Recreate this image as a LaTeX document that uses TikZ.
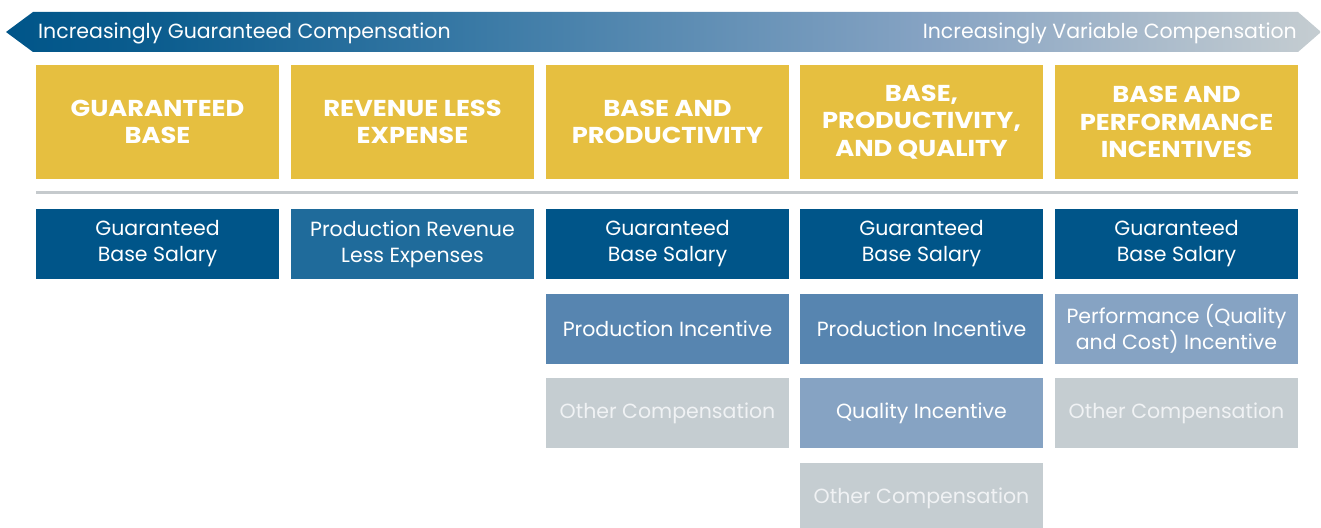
\documentclass[tikz,border=0pt]{standalone}
\usepackage{fontspec}
\setmainfont{Poppins}
\newfontfamily\headfont{Poppins}[FakeStretch=1.12]
\definecolor{gold}{HTML}{E6BF40}
\definecolor{navy}{HTML}{005589}
\definecolor{midblue}{HTML}{1F6B9B}
\definecolor{prodblue}{HTML}{5785B0}
\definecolor{qualblue}{HTML}{86A3C3}
\definecolor{othergray}{HTML}{C5CDD1}
\definecolor{rulegray}{HTML}{C5CACD}
\definecolor{othertext}{HTML}{F0F2F4}
\pgfdeclarehorizontalshading{bandshade}{100bp}{color(0bp)=(navy); color(25bp)=(navy); color(31bp)=(navy!95!white); color(41.5bp)=(midblue!80!qualblue); color(60bp)=(qualblue); color(75bp)=(othergray); color(100bp)=(othergray)}
\tikzset{
  head/.style={fill=gold, minimum width=243pt, minimum height=114pt, inner sep=0pt, text=white, align=center, font=\headfont\fontsize{23}{27.5}\selectfont\bfseries},
  cell/.style={minimum width=243pt, minimum height=70pt, inner sep=0pt, text=white, align=center, font=\fontsize{20.5}{26}\selectfont},
  basecell/.style={cell, fill=navy},
  revcell/.style={cell, fill=midblue},
  prodcell/.style={cell, fill=prodblue},
  qualcell/.style={cell, fill=qualblue},
  othercell/.style={cell, fill=othergray, text=othertext},
  bandtext/.style={text=white, inner sep=0pt, font=\fontsize{20.5}{24}\selectfont},
}
\begin{document}
\begin{tikzpicture}[x=1pt,y=-1pt]
\useasboundingbox (0,0) rectangle (1321,527);
% arrow band
\path[shading=bandshade] (6,32) -- (33,12) -- (1298,12) -- (1321,32) -- (1298,52) -- (33,52) -- cycle;
\node[bandtext, anchor=base west] (lefttext) at (38,39) {Increasingly Guaranteed Compensation};
\node[bandtext, anchor=base east] (righttext) at (1297,39) {Increasingly Variable Compensation};
% headers
\node[head] (h1) at (157.5,122) {GUARANTEED\\BASE};
\node[head] (h2) at (412.5,122) {REVENUE LESS\\EXPENSE};
\node[head] (h3) at (667.5,122) {BASE AND\\PRODUCTIVITY};
\node[head] (h4) at (921.5,122) {BASE,\\PRODUCTIVITY,\\AND QUALITY};
\node[head] (h5) at (1176.5,122) {BASE AND\\PERFORMANCE\\INCENTIVES};
% rule
\coordinate (ruleL) at (36,192);
\coordinate (ruleR) at (1298,192);
\draw[rulegray, line width=3pt] (ruleL) -- (ruleR);
% row 1
\node[basecell] (c11) at (157.5,244) {Guaranteed\\Base Salary};
\node[revcell] (c21) at (412.5,244) {Production Revenue\\Less Expenses};
\node[basecell] (c31) at (667.5,244) {Guaranteed\\Base Salary};
\node[basecell] (c41) at (921.5,244) {Guaranteed\\Base Salary};
\node[basecell] (c51) at (1176.5,244) {Guaranteed\\Base Salary};
% row 2
\node[prodcell] (c32) at (667.5,329) {Production Incentive};
\node[prodcell] (c42) at (921.5,329) {Production Incentive};
\node[qualcell] (c52) at (1176.5,329) {Performance (Quality\\and Cost) Incentive};
% row 3
\node[othercell] (c33) at (667.5,413) {Other Compensation};
\node[qualcell] (c43) at (921.5,413) {Quality Incentive};
\node[othercell] (c53) at (1176.5,413) {Other Compensation};
% row 4
\node[othercell] (c44) at (921.5,498) {Other Compensation};
\end{tikzpicture}
\end{document}
